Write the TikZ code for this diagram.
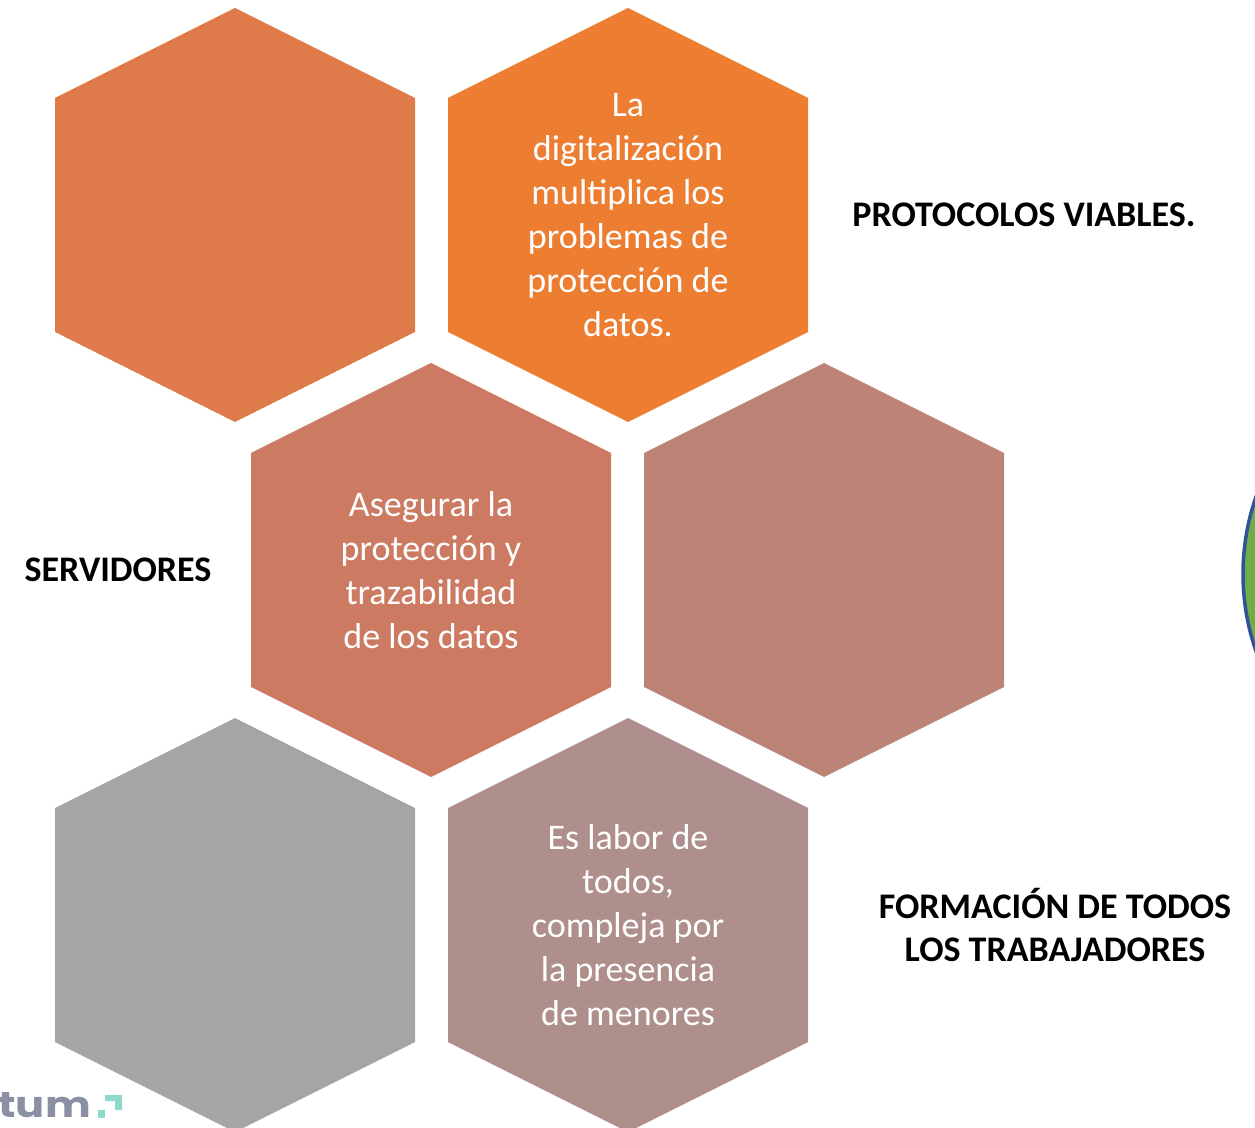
\documentclass[tikz,border=0pt]{standalone}
\usepackage{fontspec}
\setmainfont{Carlito}
\newfontfamily\logofont{Poppins}
\usetikzlibrary{backgrounds, positioning}
\definecolor{hexone}{HTML}{DF7B4A}
\definecolor{hextwo}{HTML}{ED7D31}
\definecolor{hexthree}{HTML}{CC7B62}
\definecolor{hexfour}{HTML}{BC8376}
\definecolor{hexfive}{HTML}{A5A5A5}
\definecolor{hexsix}{HTML}{AF8F8C}
\definecolor{logogrey}{HTML}{8A8FA3}
\definecolor{logoteal}{HTML}{8FD8CC}
\begin{document}
\begin{tikzpicture}[
    x=0.02cm, y=-0.02cm,
    hexagon/.style={insert path={++(0,-207) -- ++(180,90) -- ++(0,234) -- ++(-180,90) -- ++(-180,-90) -- ++(0,-234) -- cycle}},
    hexcell/.style={text=white, align=center, font=\fontsize{20.5pt}{25pt}\selectfont},
    sidelabel/.style={text=black, align=center, font=\fontsize{20.5pt}{25pt}\selectfont\bfseries},
    ]
    \useasboundingbox (0,0) rectangle (1255,1128);
    \clip (0,0) rectangle (1255,1128);

    %Nodes
    \node[hexcell] (digital)  at (628,215) {La\\digitalización\\multiplica los\\problemas de\\protección de\\datos.};
    \node[hexcell] (topleft)  at (235,215) {};
    \node[hexcell] (asegurar) at (431,570) {Asegurar la\\protección y\\trazabilidad\\de los datos};
    \node[hexcell] (midright) at (824,570) {};
    \node[hexcell] (botleft)  at (235,925) {};
    \node[hexcell] (labor)    at (628,925) {Es labor de\\todos,\\compleja por\\la presencia\\de menores};

    \node[sidelabel] (protocolos) at (1024,215) {PROTOCOLOS VIABLES.};
    \node[sidelabel] (servidores) at (118,570) {SERVIDORES};
    \node[sidelabel] (formacion)  at (1055,925) {FORMACIÓN DE TODOS\\LOS TRABAJADORES};

    \node[circle, draw=black!0!blue!45!black, fill=green!0, minimum size=0.02cm*468, line width=0.07cm,
      draw={rgb,255:red,47;green,85;blue,151}, fill={rgb,255:red,112;green,173;blue,71}] (greenball) at (1477,574) {};

    \node[inner sep=0pt, anchor=west, text=logogrey, font=\logofont\bfseries\fontsize{20.5pt}{20.5pt}\selectfont, xscale=1.2] (logo) at (-2,1105) {tum};

    %Hexagons
    \begin{scope}[on background layer]
      \foreach \cellname/\cellcolor in {topleft/hexone, digital/hextwo, asegurar/hexthree, midright/hexfour, botleft/hexfive, labor/hexsix}
        \fill[\cellcolor] (\cellname) [hexagon];
    \end{scope}

    %Logo mark
    \fill[logoteal] (98,1110) rectangle (105,1118);
    \fill[logoteal] (105,1095) -- (122,1095) -- (122,1110) -- (115,1110) -- (115,1101) -- (105,1101) -- cycle;
\end{tikzpicture}
\end{document}
